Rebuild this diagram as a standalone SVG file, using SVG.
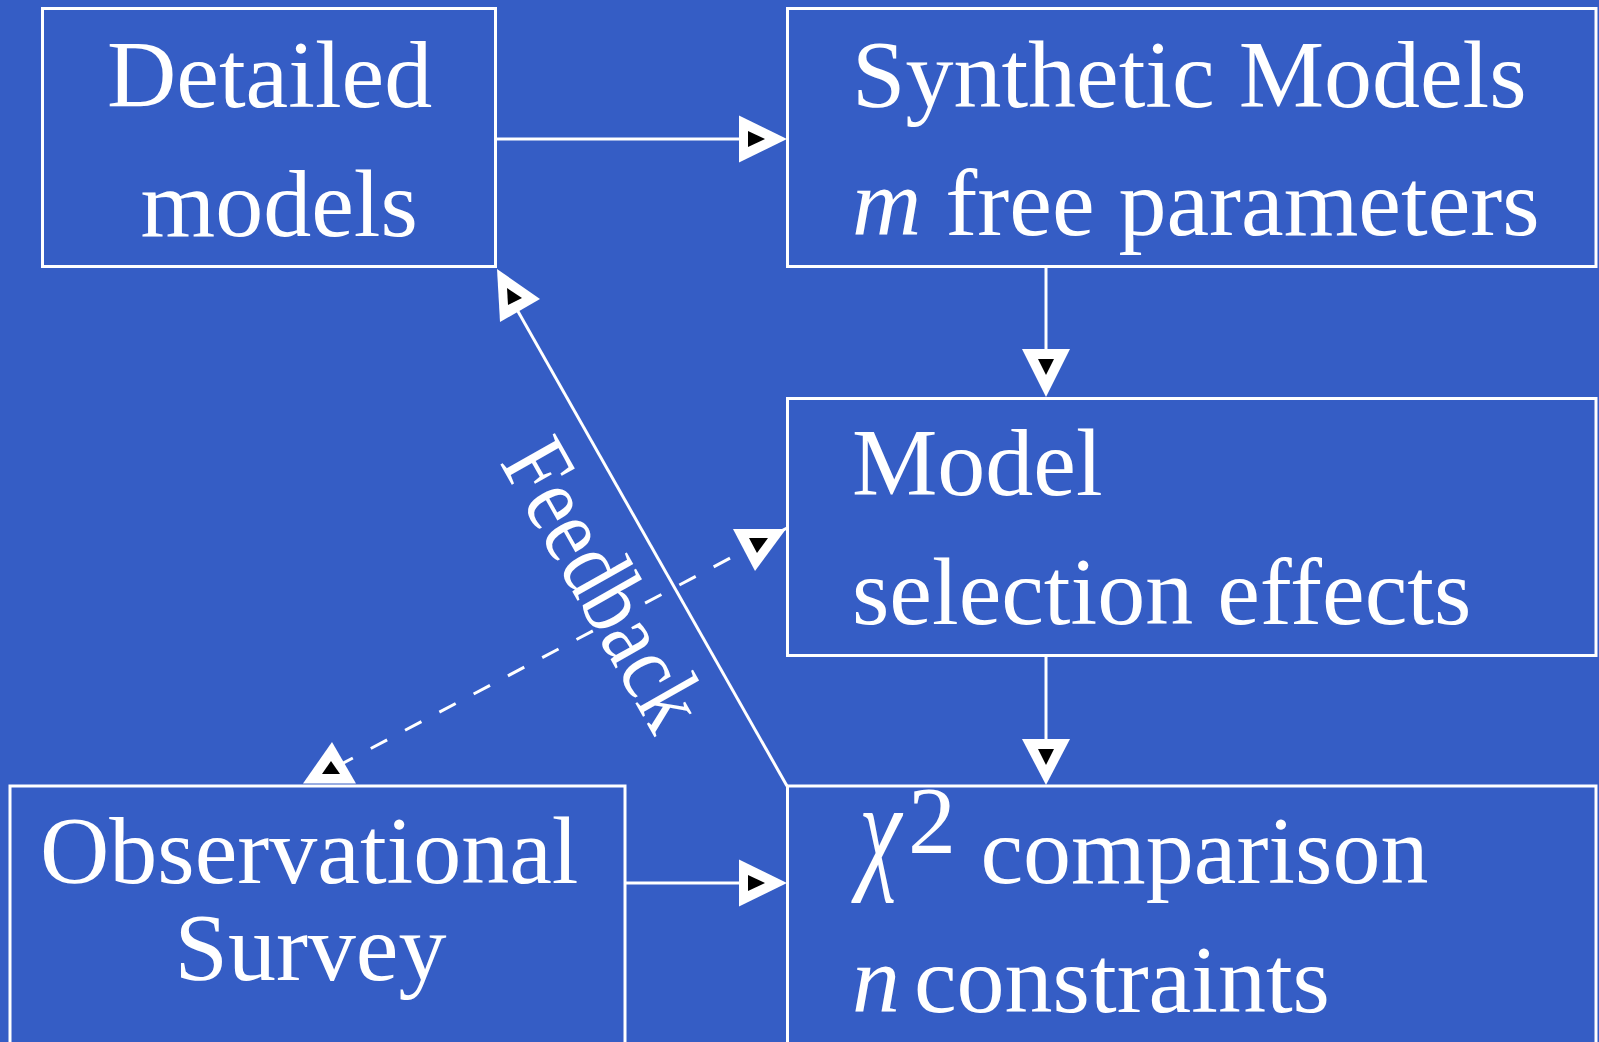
<svg xmlns="http://www.w3.org/2000/svg" width="1599" height="1042" viewBox="0 0 1599 1042">
<style>
.box{fill:none;stroke:#fff;stroke-width:3}
.ln{fill:none;stroke:#fff;stroke-width:3}
.dash{fill:none;stroke:#fff;stroke-width:3;stroke-dasharray:18.5 20.3;stroke-dashoffset:13.1}
.ahw{fill:#fff;stroke:none}
.ahb{fill:#000;stroke:none}
text{font-family:"Liberation Serif","Times New Roman",serif;fill:#fff;font-size:96px}
.it{font-style:italic}
</style>
<rect x="0" y="0" width="1599" height="1042" fill="#355DC5"/>
<g id="connectors">
<line class="ln" x1="495.5" y1="139" x2="740" y2="139"/>
<polygon class="ahw" points="739,115.5 739,162.5 787,139"/>
<polygon class="ahb" points="748,131 748,147 765,139"/>
<line class="ln" x1="1046" y1="266.5" x2="1046" y2="350"/>
<polygon class="ahw" points="1022,349 1070,349 1046,397"/>
<polygon class="ahb" points="1038,359 1054,359 1046,375"/>
<line class="ln" x1="1046" y1="655.5" x2="1046" y2="740"/>
<polygon class="ahw" points="1022,739 1070,739 1046,785"/>
<polygon class="ahb" points="1038,749 1054,749 1046,765"/>
<line class="ln" x1="625" y1="883" x2="740" y2="883"/>
<polygon class="ahw" points="739,859.5 739,906.5 787,883"/>
<polygon class="ahb" points="748,875 748,891 765,883"/>
<line class="ln" x1="787" y1="786" x2="503" y2="285"/>
<polygon class="ahw" points="497,269 540,299 500,322"/>
<polygon class="ahb" points="507,288 522,298 508,305"/>
<line class="dash" x1="787" y1="528" x2="332" y2="769"/>
<polygon class="ahw" points="733,529 786,529 755,571"/>
<polygon class="ahb" points="749,538 768,538 757,553"/>
<polygon class="ahw" points="303,783.5 356,783.5 332,742"/>
<polygon class="ahb" points="322,774 340,774 331,761"/>
<text x="0" y="0" font-size="84" textLength="316" lengthAdjust="spacingAndGlyphs" transform="translate(499,462) rotate(60.5)">Feedback</text>
</g>
<g id="detailed">
<rect class="box" x="42.5" y="8.5" width="453" height="258"/>
<text x="107" y="107">Detailed</text>
<text x="140.5" y="236">models</text>
</g>
<g id="synthetic">
<rect class="box" x="787.5" y="8.5" width="808.5" height="258"/>
<text x="852" y="107">Synthetic Models</text>
<text x="852" y="235"><tspan class="it">m</tspan> free parameters</text>
</g>
<g id="selection">
<rect class="box" x="787.5" y="398.5" width="808.5" height="257"/>
<text x="852" y="495">Model</text>
<text x="852" y="624">selection effects</text>
</g>
<g id="comparison">
<rect class="box" x="787.5" y="786" width="808.5" height="300"/>
<text class="it" x="0" y="0" transform="translate(859,875) scale(1,1.4)">χ</text>
<text x="908" y="853" font-size="76">2</text>
<text x="980.5" y="883">comparison</text>
<text class="it" x="852" y="1012">n</text>
<text x="914" y="1012">constraints</text>
</g>
<g id="survey">
<rect class="box" x="10" y="786" width="615" height="300"/>
<text x="40" y="883">Observational</text>
<text x="174.5" y="980">Survey</text>
</g>
</svg>
